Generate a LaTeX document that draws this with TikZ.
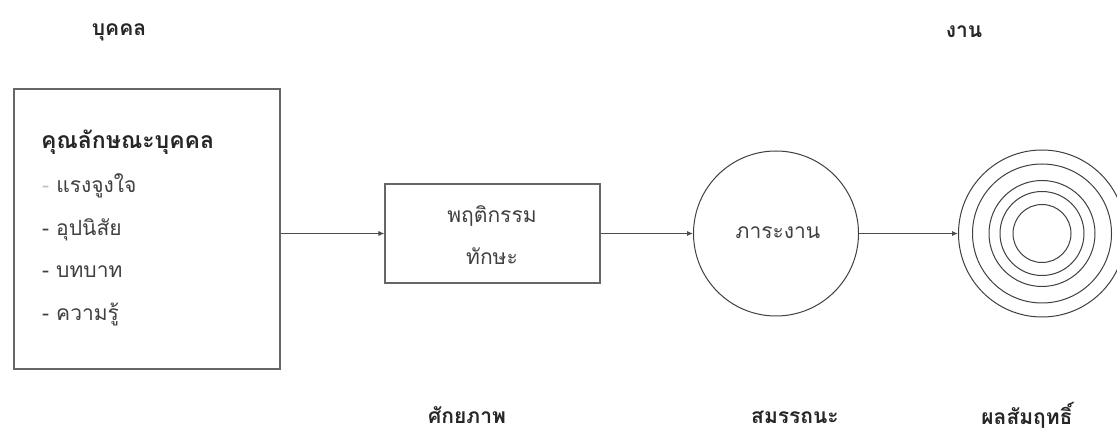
\documentclass[tikz,border=0pt]{standalone}
\usepackage{fontspec}
\newfontfamily\thaifont[Script=Thai]{Loma}
\usetikzlibrary{arrows.meta}
\begin{document}
\begin{tikzpicture}[x=1pt,y=-1pt,
  frame/.style={draw=black!60, line width=1.1pt, fill=white},
  ring/.style={draw=black!75, line width=1pt},
  flow/.style={draw=black!70, line width=0.9pt, -{Latex[length=6pt,width=5pt]}},
  heading/.style={font=\thaifont\bfseries\fontsize{21}{24}\selectfont, text=black!85, inner sep=0pt},
  body/.style={font=\thaifont\fontsize{21}{24}\selectfont, text=black!75, inner sep=0pt},
  item/.style={body, anchor=west}]
  \clip (0,0) rectangle (1117,446);
  \fill[white] (0,0) rectangle (1117,446);

  % column headings
  \node[heading] (hperson) at (119,32) {บุคคล};
  \node[heading] (hwork) at (964,32) {งาน};

  % personal attributes box
  \node[frame, minimum width=266pt, minimum height=280pt, inner sep=0pt] (person) at (147,229) {};
  \node[heading, anchor=west, font=\thaifont\bfseries\fontsize{23}{26}\selectfont] (ptitle) at (41,142) {คุณลักษณะบุคคล};
  \node[item] (p1) at (42,186) {\textcolor{black!25}{-} แรงจูงใจ};
  \node[item] (p2) at (42,230) {- อุปนิสัย};
  \node[item] (p3) at (42,272) {- บทบาท};
  \node[item] (p4) at (42,314) {- ความรู้};

  % behaviour / skill box
  \node[frame, minimum width=215pt, minimum height=99pt, inner sep=0pt] (behav) at (492.5,233.5) {};
  \node[body] (b1) at (492,216) {พฤติกรรม};
  \node[body] (b2) at (492,256) {ทักษะ};

  % workload circle
  \node[ring, circle, minimum size=165pt, inner sep=0pt] (load) at (776,233.5) {};
  \node[body] (loadtxt) at (778,233) {ภาระงาน};

  % achievement target
  \node[ring, circle, minimum size=167pt, inner sep=0pt] (target) at (1042,233.5) {};
  \foreach \d in {139,106,84,58}
    \node[ring, circle, minimum size=\d pt, inner sep=0pt] at (target.center) {};

  % connectors
  \draw[flow] (person.east |- behav.west) -- (behav.west);
  \draw[flow] (behav.east) -- (load.west);
  \draw[flow] (load.east) -- (target.west);

  % bottom captions
  \node[heading] (cpot) at (467,415) {ศักยภาพ};
  \node[heading] (ccomp) at (795,417) {สมรรถนะ};
  \node[heading] (cach) at (1027,415) {ผลสัมฤทธิ์};
\end{tikzpicture}
\end{document}
